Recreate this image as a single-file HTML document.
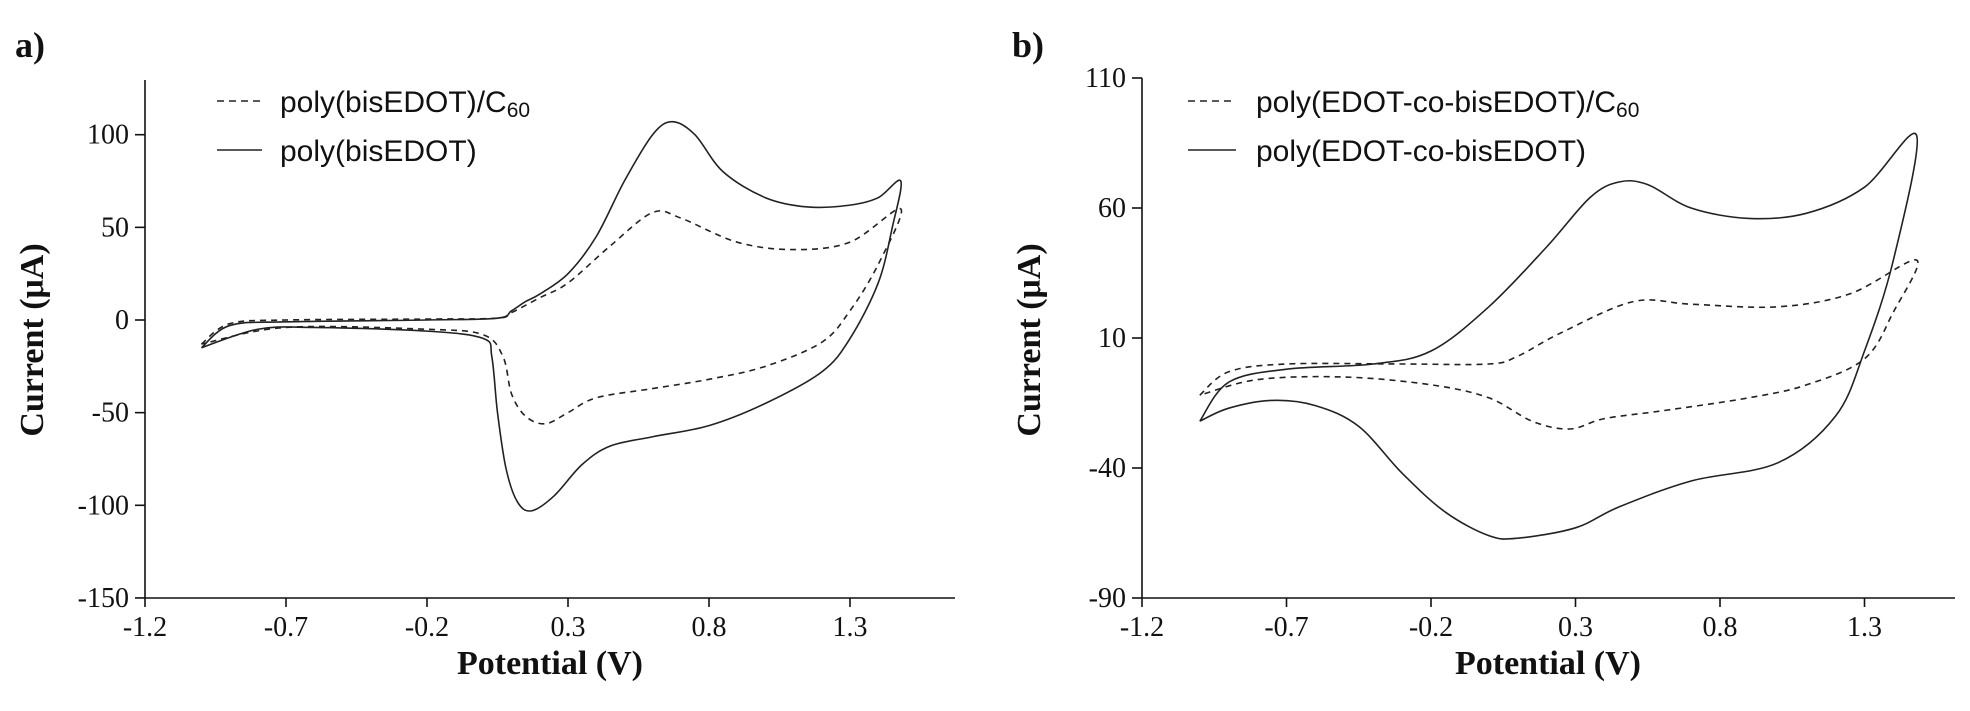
<!DOCTYPE html><html><head><meta charset="utf-8"><style>
html,body{margin:0;padding:0;background:#fff;}
svg text{font-family:"Liberation Serif",serif;fill:#111;}
.sans{font-family:"Liberation Sans",sans-serif !important;}
</style></head><body>
<svg id="s" width="1970" height="706" xmlns="http://www.w3.org/2000/svg">
<g stroke="#111" stroke-width="1.6" fill="none">
<line x1="145" y1="80" x2="145" y2="598"/><line x1="145" y1="598" x2="955" y2="598"/>
<line x1="1142" y1="78" x2="1142" y2="598"/><line x1="1142" y1="598" x2="1955" y2="598"/>
</g>
<g id="ticks" stroke="#111" stroke-width="1.6"></g>
<g id="curves" fill="none" stroke="#222" stroke-width="1.6"></g>
<text x="15" y="57" font-size="36" font-weight="bold">a)</text>
<text x="1012" y="57" font-size="36" font-weight="bold">b)</text>
<text x="550" y="674" font-size="34" font-weight="bold" text-anchor="middle">Potential (V)</text>
<text x="1548" y="674" font-size="34" font-weight="bold" text-anchor="middle">Potential (V)</text>
<text transform="translate(43,340) rotate(-90)" font-size="34" font-weight="bold" text-anchor="middle">Current (μA)</text>
<text transform="translate(1040,340) rotate(-90)" font-size="34" font-weight="bold" text-anchor="middle">Current (μA)</text>
<g stroke="#222" stroke-width="1.6">
<line x1="217" y1="101" x2="262" y2="101" stroke-dasharray="7,5"/><line x1="217" y1="150" x2="262" y2="150"/>
<line x1="1188" y1="101" x2="1236" y2="101" stroke-dasharray="7,5"/><line x1="1188" y1="150" x2="1236" y2="150"/>
</g>
<text class="sans" x="280" y="112" font-size="30">poly(bisEDOT)/C<tspan font-size="21" dy="5">60</tspan></text>
<text class="sans" x="280" y="161" font-size="30">poly(bisEDOT)</text>
<text class="sans" x="1256" y="112" font-size="30">poly(EDOT-co-bisEDOT)/C<tspan font-size="21" dy="5">60</tspan></text>
<text class="sans" x="1256" y="161" font-size="30">poly(EDOT-co-bisEDOT)</text>
<g id="labels" font-size="28"></g>
</svg>
<script>
var NS="http://www.w3.org/2000/svg";
function el(p,t,a,txt){var e=document.createElementNS(NS,t);for(var k in a)e.setAttribute(k,a[k]);if(txt!==undefined)e.textContent=txt;document.getElementById(p).appendChild(e);return e;}
var A={x0:145,px:282,y0:320,py:1.853,yt:[100,50,0,-50,-100,-150]};
var B={x0:1142,px:289,y0:364,py:2.6,yt:[110,60,10,-40,-90]};
function X(c,v){return c.x0+(v+1.2)*c.px;}function Y(c,v){return c.y0-v*c.py;}
[A,B].forEach(function(c){
 ["-1.2","-0.7","-0.2","0.3","0.8","1.3"].forEach(function(s){var x=X(c,+s);el("ticks","line",{x1:x,y1:598,x2:x,y2:607});el("labels","text",{x:x,y:636,"text-anchor":"middle"},s);});
 c.yt.forEach(function(v){var y=Y(c,v);el("ticks","line",{x1:c.x0-10,y1:y,x2:c.x0,y2:y});el("labels","text",{x:c.x0-16,y:y+9,"text-anchor":"end"},String(v));});
});
function path(c,pts,dash){var P=pts.map(function(p){return [X(c,p[0]),Y(c,p[1])];});var d="M"+P[0][0]+","+P[0][1];
for(var i=0;i<P.length-1;i++){var p0=P[i-1]||P[i],p1=P[i],p2=P[i+1],p3=P[i+2]||p2;
d+=" C"+(p1[0]+(p2[0]-p0[0])/6)+","+(p1[1]+(p2[1]-p0[1])/6)+" "+(p2[0]-(p3[0]-p1[0])/6)+","+(p2[1]-(p3[1]-p1[1])/6)+" "+p2[0]+","+p2[1];}
var a={d:d};if(dash)a["stroke-dasharray"]="6,5";el("curves","path",a);}
path(A,[[-1.0,-15],[-0.9,-3],[-0.7,-1],[-0.2,0],[0.05,1],[0.1,5],[0.15,10],[0.2,14],[0.3,25],[0.4,45],[0.5,75],[0.6,100],[0.67,107],[0.75,100],[0.85,80],[1.0,66],[1.15,61],[1.3,62],[1.4,66],[1.48,75],[1.45,50],[1.4,20],[1.3,-10],[1.2,-28],[1.0,-45],[0.8,-57],[0.6,-63],[0.45,-68],[0.35,-78],[0.25,-95],[0.17,-103],[0.12,-98],[0.08,-80],[0.05,-50],[0.03,-20],[0.0,-10],[-0.2,-6],[-0.6,-4],[-0.8,-5],[-1.0,-15]]);
path(A,[[-1.0,-13],[-0.9,-2],[-0.7,0],[-0.2,0.5],[0.05,1],[0.1,4],[0.2,12],[0.3,20],[0.45,40],[0.6,58],[0.7,55],[0.9,42],[1.1,38],[1.3,42],[1.48,60],[1.4,30],[1.3,5],[1.2,-12],[1.0,-25],[0.8,-32],[0.6,-37],[0.4,-42],[0.3,-50],[0.22,-56],[0.15,-52],[0.1,-40],[0.07,-20],[0.0,-8],[-0.2,-5],[-0.7,-4],[-1.0,-13]],true);
path(B,[[-1.0,-22],[-0.9,-7],[-0.7,-2],[-0.4,0],[-0.2,5],[0.0,22],[0.2,45],[0.35,64],[0.45,70],[0.55,69],[0.7,60],[0.9,56],[1.1,58],[1.3,68],[1.48,88],[1.4,40],[1.3,5],[1.2,-20],[1.0,-38],[0.7,-45],[0.45,-55],[0.3,-63],[0.1,-67],[0.0,-66],[-0.15,-57],[-0.3,-42],[-0.45,-24],[-0.6,-16],[-0.75,-14],[-0.9,-17],[-1.0,-22]]);
path(B,[[-1.0,-12],[-0.9,-3],[-0.7,0],[-0.3,0],[0.0,0],[0.1,3],[0.25,12],[0.5,24],[0.7,23],[1.0,22],[1.25,27],[1.48,40],[1.4,20],[1.3,2],[1.1,-8],[0.9,-13],[0.6,-18],[0.4,-21],[0.28,-25],[0.15,-22],[0.0,-13],[-0.2,-8],[-0.5,-5],[-0.8,-6],[-1.0,-12]],true);
</script>
</body></html>
